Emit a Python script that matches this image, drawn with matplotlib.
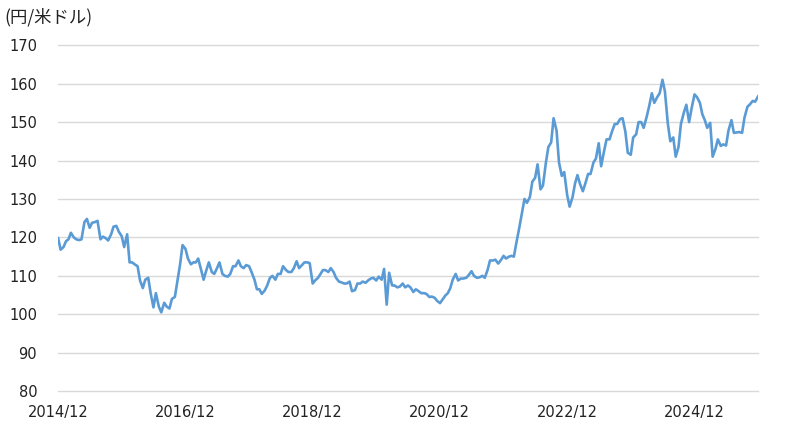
import pandas as pd
import matplotlib.pyplot as plt
import matplotlib.dates as mdates

# USD/JPY at the 1st and 15th of each month
rate_2015 = [119.8, 116.8, 117.5, 119.0, 119.5, 121.2, 120.0, 119.5, 119.3, 119.5, 124.0, 124.8,
             122.5, 123.8, 124.0, 124.3, 119.5, 120.2, 119.8, 119.2, 120.8, 122.8, 123.0, 121.5]
rate_2016 = [120.3, 117.5, 120.8, 113.5, 113.5, 113.0, 112.5, 108.8, 106.8, 109.0, 109.5, 105.5,
             101.8, 105.5, 102.0, 100.5, 103.0, 102.0, 101.5, 104.0, 104.5, 108.5, 113.0, 118.0]
rate_2017 = [117.0, 114.5, 113.0, 113.5, 113.5, 114.5, 111.5, 109.0, 111.5, 113.5, 111.0, 110.5,
             112.0, 113.5, 110.5, 110.0, 109.8, 110.5, 112.5, 112.5, 114.0, 112.5, 112.0, 112.8]
rate_2018 = [112.5, 111.0, 109.0, 106.5, 106.5, 105.3, 106.2, 107.5, 109.5, 110.0, 109.0, 110.5,
             110.5, 112.5, 111.5, 111.0, 111.0, 112.0, 113.8, 112.0, 112.8, 113.5, 113.5, 113.3]
rate_2019 = [108.0, 108.8, 109.5, 110.5, 111.5, 111.5, 111.0, 112.0, 111.0, 109.5, 108.5, 108.3,
             108.0, 108.0, 108.5, 106.0, 106.3, 108.0, 108.0, 108.5, 108.2, 108.8, 109.3, 109.5]
rate_2020 = [108.8, 109.8, 109.0, 111.8, 102.5, 110.8, 107.5, 107.5, 107.0, 107.2, 108.0, 107.0,
             107.5, 107.0, 105.8, 106.5, 106.0, 105.5, 105.5, 105.3, 104.5, 104.6, 104.3, 103.5]
rate_2021 = [102.9, 103.8, 104.9, 105.5, 106.8, 109.0, 110.5, 108.8, 109.3, 109.3, 109.5, 110.2,
             111.2, 110.0, 109.5, 109.6, 110.0, 109.5, 111.5, 114.0, 114.0, 114.2, 113.2, 114.0]
rate_2022 = [115.2, 114.5, 115.0, 115.2, 115.0, 118.5, 122.5, 126.0, 130.0, 129.0, 130.5, 134.5,
             135.5, 139.0, 132.5, 133.5, 139.5, 143.5, 144.7, 151.0, 147.8, 139.5, 136.0, 137.0]
rate_2023 = [131.0, 128.0, 130.5, 134.0, 136.2, 134.0, 132.0, 134.0, 136.5, 136.5, 139.5, 140.5,
             144.5, 138.5, 142.5, 145.5, 145.5, 147.5, 149.5, 149.5, 150.8, 151.0, 147.5, 142.0]
rate_2024 = [141.5, 146.0, 146.8, 150.0, 150.0, 148.5, 151.3, 154.0, 157.5, 155.0, 156.5, 157.5,
             161.0, 158.0, 149.5, 145.0, 146.0, 141.0, 143.5, 149.5, 152.5, 154.5, 150.0, 153.5]
rate_2025 = [157.2, 156.5, 155.0, 152.0, 150.5, 148.5, 149.8, 141.0, 143.0, 145.5, 143.8, 144.2,
             143.9, 147.8, 150.5, 147.2, 147.3, 147.4, 147.2, 151.2, 154.0, 154.6, 155.5, 155.3]
rate_2026 = [156.7]

rate = (rate_2015 + rate_2016 + rate_2017 + rate_2018 + rate_2019 + rate_2020
        + rate_2021 + rate_2022 + rate_2023 + rate_2024 + rate_2025 + rate_2026)
dates = pd.date_range("2015-01-01", periods=len(rate), freq="SMS")

tick_dates = pd.to_datetime(["2014-12-31", "2016-12-31", "2018-12-31",
                             "2020-12-31", "2022-12-31", "2024-12-31"])
y_ticks = list(range(80, 171, 10))

fig = plt.figure(figsize=(7.92, 4.43), dpi=100)
ax = fig.add_axes([0.0732, 0.117, 0.884, 0.781])

ax.plot(dates, rate, color="#5B9BD5", lw=1.9, solid_joinstyle="round")

ax.set_ylim(80, 170)
ax.set_yticks(y_ticks)
ax.set_xlim(pd.Timestamp("2014-12-31"), pd.Timestamp("2026-01-01"))
ax.set_xticks(tick_dates)
ax.xaxis.set_major_formatter(mdates.DateFormatter("%Y/%m"))

ax.grid(axis="y", color="#D9D9D9", lw=1.0)
for gl in ax.get_ygridlines():
    gl.set_clip_on(False)
ax.set_axisbelow(True)
for s in ax.spines.values():
    s.set_visible(False)
ax.tick_params(axis="both", length=0, labelsize=10.5, labelcolor="#222222")
ax.tick_params(axis="y", pad=15)
ax.tick_params(axis="x", pad=10)

fig.text(0.006, 0.962, "(円/米ドル)", fontsize=12.5, color="#222222",
         family=["Noto Sans CJK JP", "DejaVu Sans"], va="center", ha="left")

fig.savefig("out.png", dpi=100)
